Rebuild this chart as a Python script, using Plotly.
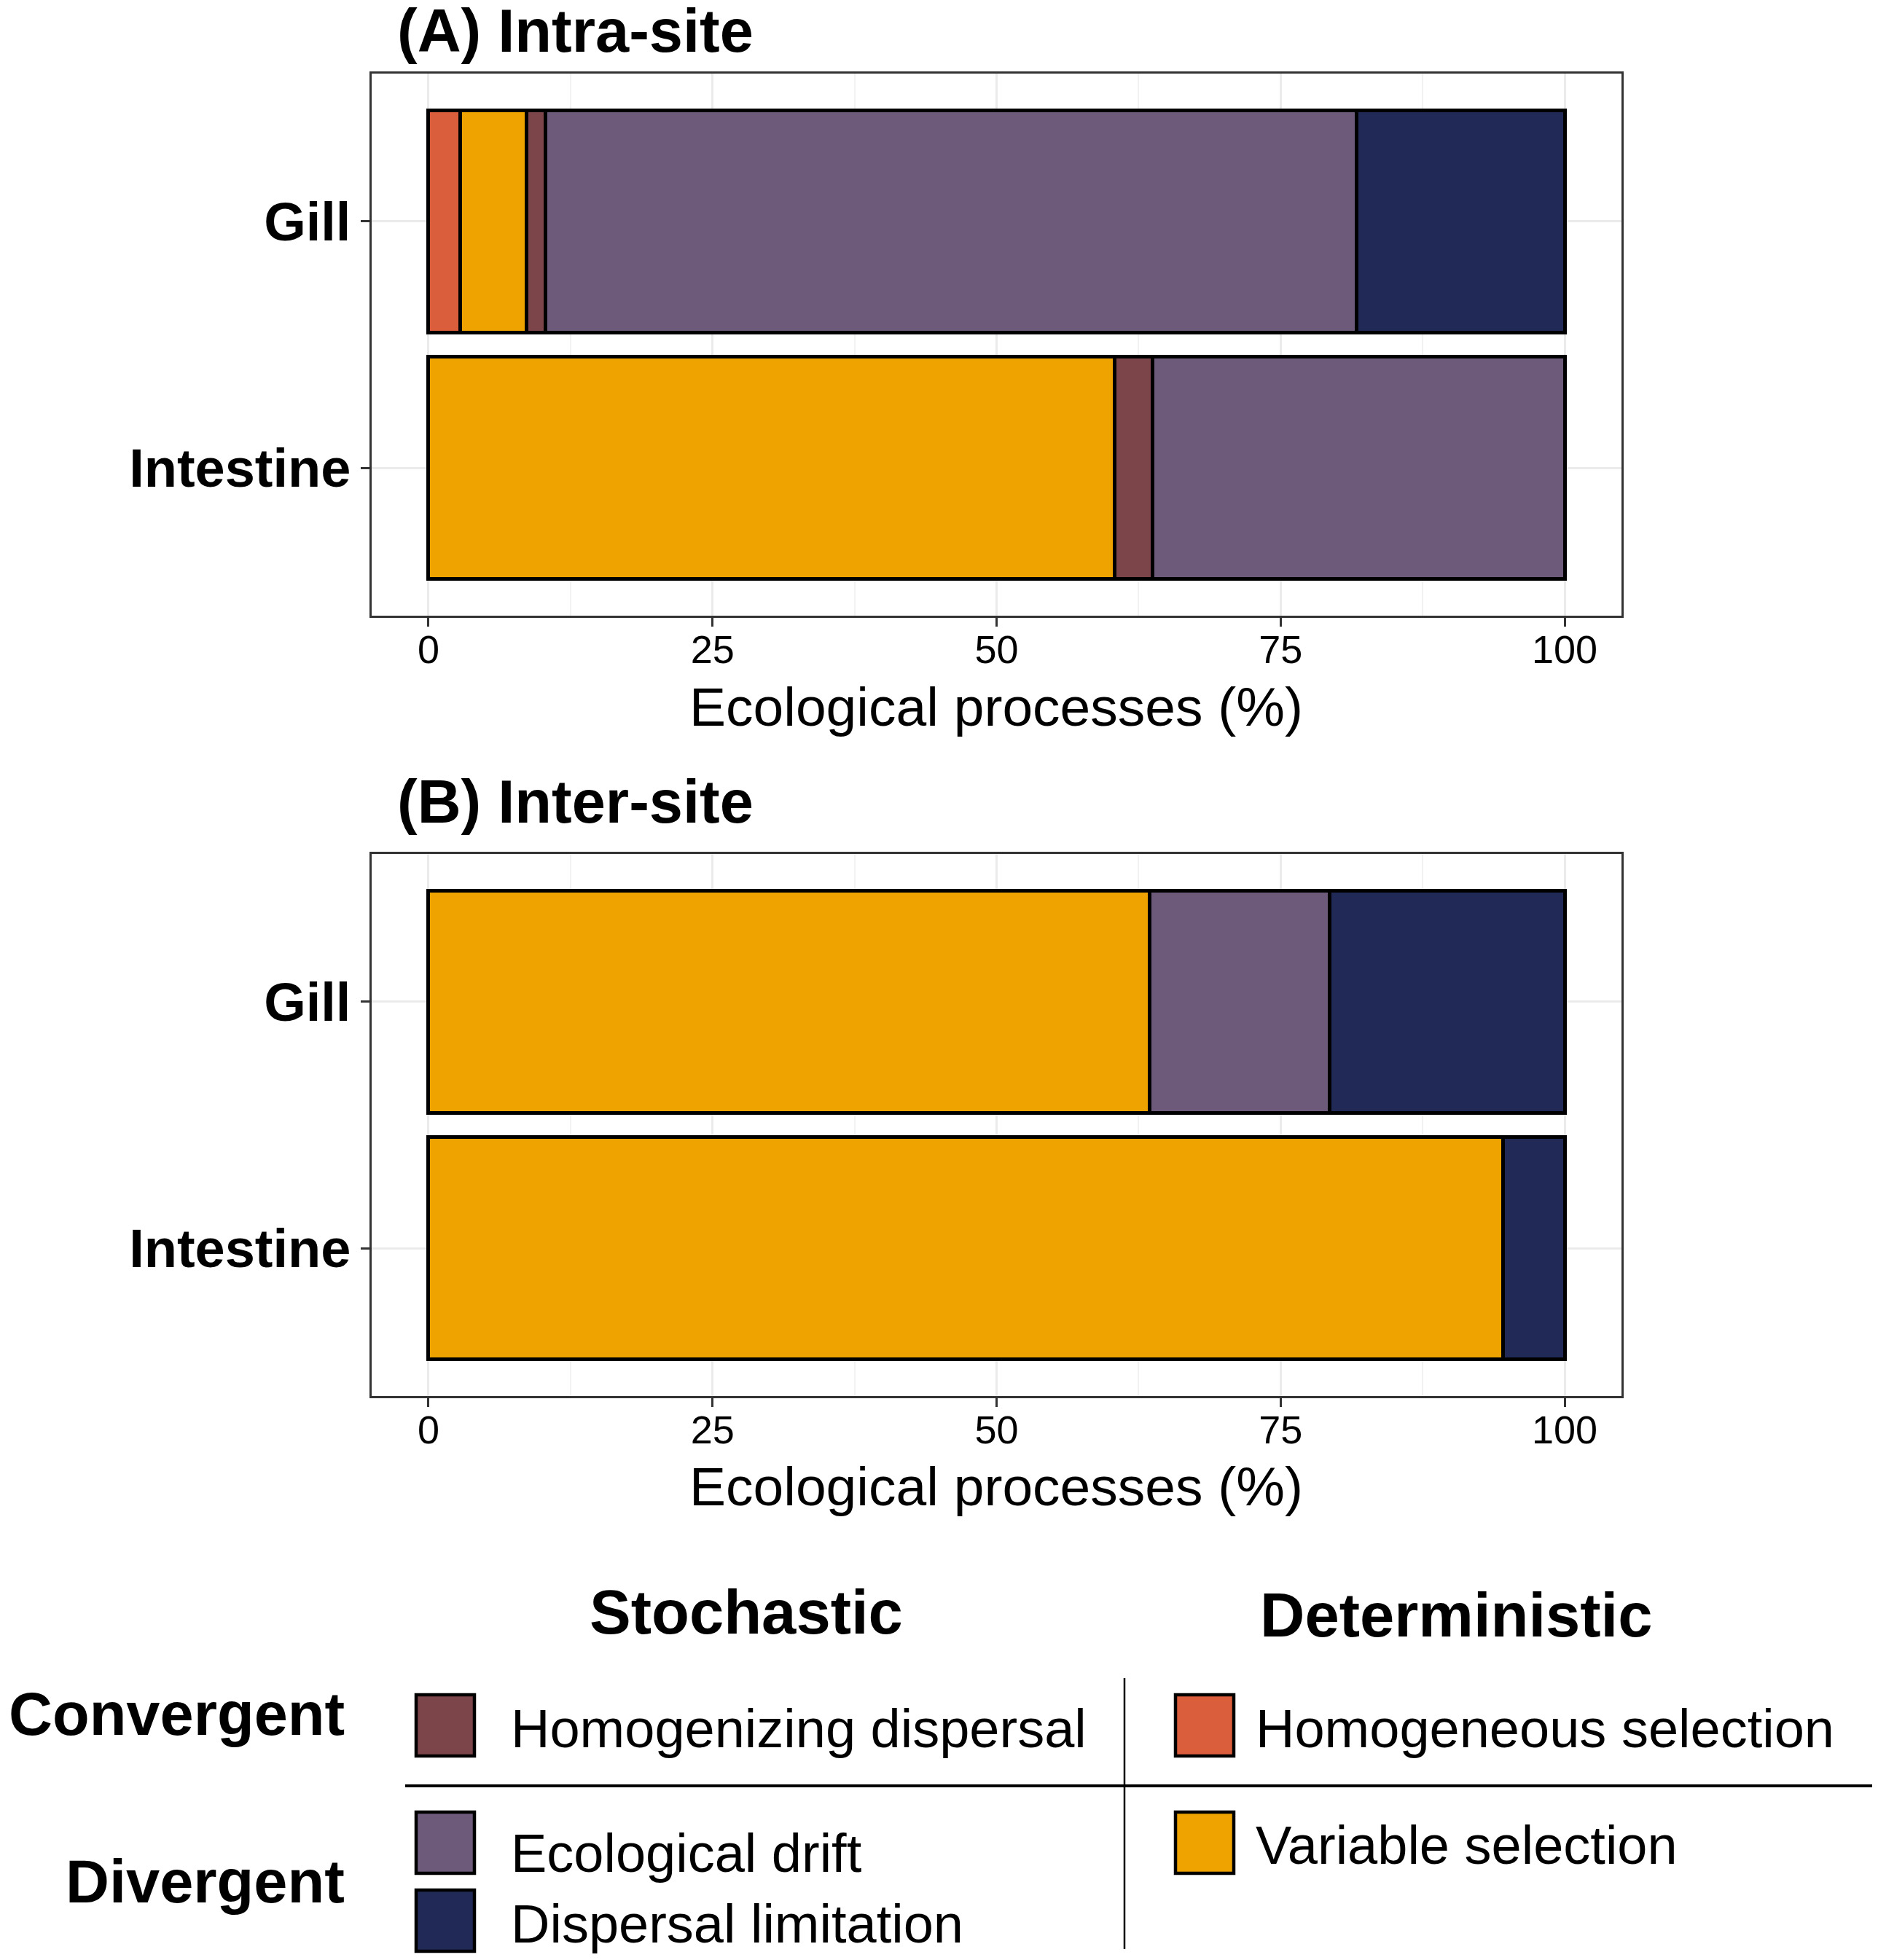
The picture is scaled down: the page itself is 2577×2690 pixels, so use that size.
import plotly.graph_objects as go

W, H = 2577, 2690
OFF = 8                      # default body margin of the html page
Wf, Hf = W - 2 * OFF, H - 2 * OFF

def px(x):
    return (x - OFF) / Wf

def py(y):
    return 1 - (y - OFF) / Hf

# ---------------- data ----------------
categories = ["Intestine", "Gill"]
processes = ["Homogeneous selection", "Variable selection", "Homogenizing dispersal",
             "Ecological drift", "Dispersal limitation"]
colors = {"Homogeneous selection": "#DA5E3C",
          "Variable selection": "#EFA300",
          "Homogenizing dispersal": "#7B4549",
          "Ecological drift": "#6D597A",
          "Dispersal limitation": "#212A56"}

# values per category [Intestine, Gill]
intra_homogeneous_selection = [0.0, 2.8]
intra_variable_selection = [60.4, 5.8]
intra_homogenizing_dispersal = [3.3, 1.7]
intra_ecological_drift = [36.3, 71.4]
intra_dispersal_limitation = [0.0, 18.3]

inter_homogeneous_selection = [0.0, 0.0]
inter_variable_selection = [94.6, 63.5]
inter_homogenizing_dispersal = [0.0, 0.0]
inter_ecological_drift = [0.0, 15.8]
inter_dispersal_limitation = [5.4, 20.7]

x_ticks = [0, 25, 50, 75, 100]
x_tick_labels = ["0", "25", "50", "75", "100"]

intra = [intra_homogeneous_selection, intra_variable_selection, intra_homogenizing_dispersal,
         intra_ecological_drift, intra_dispersal_limitation]
inter = [inter_homogeneous_selection, inter_variable_selection, inter_homogenizing_dispersal,
         inter_ecological_drift, inter_dispersal_limitation]

FONT = "Liberation Sans, Arial, Helvetica, sans-serif"

fig = go.Figure()
for vals, xa, ya in [(intra, "x", "y"), (inter, "x2", "y2")]:
    for name, v in zip(processes, vals):
        fig.add_trace(go.Bar(
            y=categories, x=v, orientation="h", name=name,
            marker=dict(color=colors[name], line=dict(color="black", width=5)),
            xaxis=xa, yaxis=ya, showlegend=False, width=0.9,
            hovertemplate=name + ": %{x}%<extra>%{y}</extra>"))

xaxis_common = dict(
    range=[-5, 105], tickvals=x_ticks, ticktext=x_tick_labels,
    showgrid=True, gridcolor="#EBEBEB", gridwidth=2.5,
    minor=dict(showgrid=True, gridcolor="#F2F2F2", gridwidth=1.5, tickvals=[12.5, 37.5, 62.5, 87.5]),
    ticks="outside", ticklen=12, tickwidth=3, tickcolor="#333333",
    tickfont=dict(family=FONT, size=54, color="black"),
    showline=True, mirror=True, linecolor="#333333", linewidth=2.5,
    zeroline=False, fixedrange=True, ticklabelstandoff=-15,
)
yaxis_common = dict(
    type="category", categoryorder="array", categoryarray=categories,
    range=[-0.6, 1.6],
    showgrid=True, gridcolor="#EBEBEB", gridwidth=2.5,
    ticks="outside", ticklen=12, tickwidth=3, tickcolor="#333333",
    tickfont=dict(family=FONT, size=74, color="black", weight="bold"),
    showline=True, mirror=True, linecolor="#333333", linewidth=2.5,
    zeroline=False, fixedrange=True, ticklabelstandoff=-1,
)

fig.update_layout(
    width=Wf, height=Hf,
    margin=dict(l=0, r=0, t=0, b=0),
    paper_bgcolor="white", plot_bgcolor="white",
    barmode="stack", bargap=0.1,
    font=dict(family=FONT, color="black"),
    xaxis=dict(domain=[px(510), px(2225)], anchor="y", **xaxis_common),
    yaxis=dict(domain=[py(845), py(101)], anchor="x", **yaxis_common),
    xaxis2=dict(domain=[px(510), px(2225)], anchor="y2", **xaxis_common),
    yaxis2=dict(domain=[py(1916), py(1172)], anchor="x2", **yaxis_common),
)

ann = []
def text(x, y, s, size, xanchor="center", bold=False):
    ann.append(dict(x=px(x), y=py(y), xref="paper", yref="paper", text=("<b>%s</b>" % s) if bold else s,
                    showarrow=False, xanchor=xanchor, yanchor="middle", borderpad=0,
                    font=dict(family=FONT, size=size, color="black")))

# panel titles
text(544, 42, "(A) Intra-site", 83, xanchor="left", bold=True)
text(544, 1100, "(B) Inter-site", 83, xanchor="left", bold=True)
# axis titles
text(1367, 970, "Ecological processes (%)", 75)
text(1367, 2040, "Ecological processes (%)", 75)

# legend headers
text(1024, 2212, "Stochastic", 85, bold=True)
text(1998, 2216, "Deterministic", 85, bold=True)
text(474, 2352, "Convergent", 83, xanchor="right", bold=True)
text(474, 2582, "Divergent", 83, xanchor="right", bold=True)

shapes = []
legend_items = [
    ("Homogenizing dispersal", 571, 2326, 700, 2372),
    ("Homogeneous selection", 1613, 2326, 1722, 2372),
    ("Ecological drift", 571, 2487, 700, 2543),
    ("Variable selection", 1613, 2487, 1722, 2532),
    ("Dispersal limitation", 571, 2594, 700, 2640),
]
for name, sx, sy, tx, ty in legend_items:
    shapes.append(dict(type="rect", xref="paper", yref="paper",
                       x0=px(sx), x1=px(sx + 80), y0=py(sy), y1=py(sy + 84),
                       fillcolor=colors[name], line=dict(color="black", width=4.5)))
    text(tx, ty, name, 74, xanchor="left")

# legend dividers
shapes.append(dict(type="line", xref="paper", yref="paper", x0=px(556), x1=1,
                   y0=py(2451), y1=py(2451), line=dict(color="black", width=4)))
shapes.append(dict(type="line", xref="paper", yref="paper", x0=px(1543), x1=px(1543),
                   y0=py(2303), y1=py(2675), line=dict(color="black", width=2.5)))

fig.update_layout(annotations=ann, shapes=shapes)
fig.write_html("out.html")
